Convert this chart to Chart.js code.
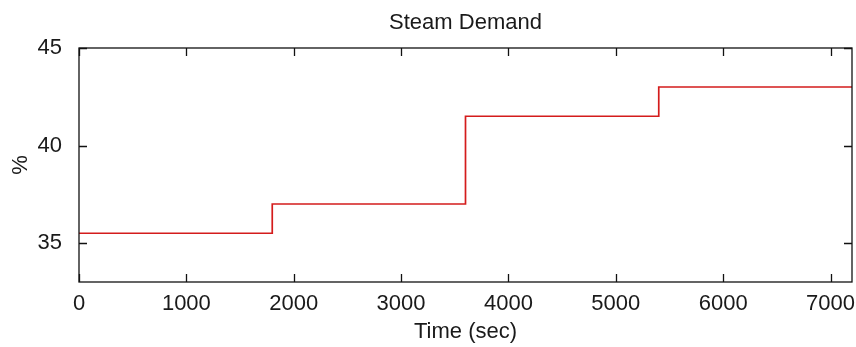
<!DOCTYPE html>
<html>
<head>
<meta charset="utf-8">
<script src="https://cdn.jsdelivr.net/npm/chart.js@4"></script>
<style>
  html, body { margin: 0; padding: 0; background: #fff; }
  #wrap { width: 856px; height: 347px; position: relative; }
</style>
</head>
<body>
<div id="wrap"><canvas id="steam"></canvas></div>
<script>
// steam demand set point, stepped every 30 min
var stepTimes = [0, 1800, 3600, 5400, 7200];
var demand = [35.5, 37, 41.5, 43, 43];
var xTicks = [0, 1000, 2000, 3000, 4000, 5000, 6000, 7000];
var yTicks = [35, 40, 45];
var chartTitle = 'Steam Demand';

var FONT = "'Liberation Sans', Arial, sans-serif";
var TEXT = '#1a1a1a';

// box around the axes with inward ticks on all four sides,
// title centred over the axes rather than the canvas
var boxPlugin = {
    id: 'box',
    afterDatasetsDraw: function(chart) {
        var ctx = chart.ctx;
        var a = chart.chartArea;
        var xs = chart.scales.x, ys = chart.scales.y;
        var len = 8;
        ctx.save();
        ctx.strokeStyle = '#111';
        ctx.lineWidth = 1.3;
        ctx.strokeRect(a.left, a.top, a.right - a.left, a.bottom - a.top);
        ctx.beginPath();
        xs.ticks.forEach(function(t) {
            var px = Math.round(xs.getPixelForValue(t.value)) + 0.5;
            ctx.moveTo(px, a.bottom); ctx.lineTo(px, a.bottom - len);
            ctx.moveTo(px, a.top); ctx.lineTo(px, a.top + len);
        });
        ys.ticks.forEach(function(t) {
            var py = Math.round(ys.getPixelForValue(t.value)) + 0.5;
            ctx.moveTo(a.left, py); ctx.lineTo(a.left + len, py);
            ctx.moveTo(a.right, py); ctx.lineTo(a.right - len, py);
        });
        ctx.stroke();

        ctx.fillStyle = TEXT;
        ctx.font = '22px ' + FONT;
        ctx.textAlign = 'center';
        ctx.textBaseline = 'alphabetic';
        ctx.fillText(chartTitle, (a.left + a.right) / 2, 29);
        ctx.restore();
    }
};

var points = stepTimes.map(function(t, i) { return { x: t, y: demand[i] }; });

new Chart(document.getElementById('steam'), {
    type: 'line',
    data: {
        datasets: [{
            data: points,
            borderColor: '#d41c1c',
            borderWidth: 1.7,
            stepped: true,
            pointRadius: 0,
            fill: false
        }]
    },
    options: {
        responsive: true,
        maintainAspectRatio: false,
        animation: false,
        layout: { padding: { left: 0, right: 4, top: 48, bottom: 0 } },
        plugins: {
            legend: { display: false },
            tooltip: { enabled: false },
            title: { display: false }
        },
        scales: {
            x: {
                type: 'linear',
                min: 0,
                max: 7200,
                grid: { display: false },
                border: { display: false },
                afterBuildTicks: function(scale) {
                    scale.ticks = xTicks.map(function(v) { return { value: v }; });
                },
                afterFit: function(scale) {
                    scale.height = 65;
                    scale.paddingRight = 0;
                    scale.paddingLeft = 0;
                },
                ticks: {
                    color: TEXT,
                    padding: 1,
                    maxRotation: 0,
                    font: { family: FONT, size: 22 },
                    callback: function(v) { return String(v); }
                },
                title: {
                    display: true,
                    text: 'Time (sec)',
                    color: TEXT,
                    font: { family: FONT, size: 22 },
                    padding: { top: 0, bottom: 2 }
                }
            },
            y: {
                min: 33,
                max: 45,
                grid: { display: false },
                border: { display: false },
                afterBuildTicks: function(scale) {
                    scale.ticks = yTicks.map(function(v) { return { value: v }; });
                },
                afterFit: function(scale) {
                    scale.width = 79;
                    scale.paddingTop = 0;
                    scale.paddingBottom = 0;
                },
                ticks: {
                    color: TEXT,
                    padding: 9,
                    font: { family: FONT, size: 22 },
                    callback: function(v) { return String(v); }
                },
                title: {
                    display: true,
                    text: '%',
                    color: TEXT,
                    font: { family: FONT, size: 22 },
                    padding: { top: 8, bottom: 0 }
                }
            }
        }
    },
    plugins: [boxPlugin]
});
</script>
</body>
</html>
